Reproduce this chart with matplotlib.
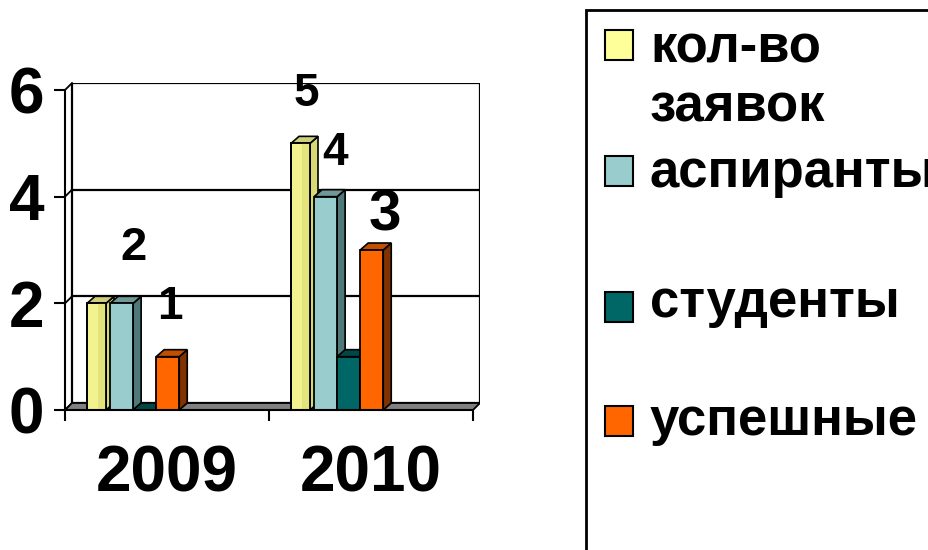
import matplotlib.pyplot as plt
from matplotlib.patches import Polygon, Rectangle

years = ["2009", "2010"]
series_names = ["кол-во\nзаявок", "аспиранты", "студенты", "успешные"]
applications = [2, 5]
postgrads = [2, 4]
students = [0, 1]
successful = [1, 3]
values = [applications, postgrads, students, successful]

front_colors = ["#F2F28F", "#99CCCC", "#006666", "#FF6600"]
side_colors = ["#D8D878", "#4F7878", "#003C3C", "#803300"]
top_colors = ["#CFCF7A", "#6F9898", "#004848", "#C24E00"]
legend_colors = ["#FFFF99", "#99CCCC", "#006666", "#FF6600"]

plt.rcParams["font.family"] = ["Liberation Sans", "DejaVu Sans"]
plt.rcParams["font.weight"] = "bold"

W, H = 929, 550
fig = plt.figure(figsize=(W / 100, H / 100), dpi=100)

# pixel scale of the front plane
px_x = 204.0
px_y = 53.33
wall_dx = 7 / px_x
wall_dy = 7 / px_y
bar_dx = 8 / px_x
bar_dy = 7 / px_y

ax = fig.add_axes([65 / W, 140 / H, (2 * px_x + 7) / W, (6 * px_y + 7) / H])
ax.set_xlim(0, 2 + wall_dx)
ax.set_ylim(0, 6 + wall_dy)
ax.patch.set_visible(False)

# back wall + gridlines
ax.add_patch(Rectangle((wall_dx, wall_dy), 2, 6, fc="white", ec="black", lw=1.6, zorder=1))
for g in [2, 4]:
    ax.plot([wall_dx, 2 + wall_dx], [g + wall_dy, g + wall_dy], color="black", lw=1.6, zorder=1.5)
# left wall edges
for g in [0, 2, 4, 6]:
    ax.plot([0, wall_dx], [g, g + wall_dy], color="black", lw=1.3, zorder=1.5, clip_on=False)
# floor
ax.add_patch(Polygon([(0, 0), (2, 0), (2 + wall_dx, wall_dy), (wall_dx, wall_dy)],
                     closed=True, fc="#808080", ec="black", lw=1.3, zorder=2))

# bars
slot = 0.113
start = 0.108
for k, vals in enumerate(values):
    width = 0.093 if k == 0 else slot
    lefts = [i + start + k * slot for i in range(len(years))]
    base = 10 + 10 * k
    bars = ax.bar(lefts, vals, width=width, align="edge", color=front_colors[k],
                  edgecolor="black", linewidth=1.3, zorder=base + 3)
    for b in bars:
        x0 = b.get_x()
        x1 = x0 + b.get_width()
        h = b.get_height()
        if k == 0:
            ax.add_patch(Rectangle((x0 + 0.6 * width, 0), 0.4 * width, h, fc="#E4E47C",
                                   ec="none", zorder=base + 3.5))
            ax.add_patch(Rectangle((x0, 0), width, h, fill=False, ec="black", lw=1.3,
                                   zorder=base + 3.6))
        ax.add_patch(Polygon([(x1, 0), (x1 + bar_dx, bar_dy), (x1 + bar_dx, h + bar_dy), (x1, h)],
                             closed=True, fc=side_colors[k], ec="black", lw=1.2, zorder=base + 1))
        ax.add_patch(Polygon([(x0, h), (x1, h), (x1 + bar_dx, h + bar_dy), (x0 + bar_dx, h + bar_dy)],
                             closed=True, fc=top_colors[k], ec="black", lw=1.2, zorder=base + 2))

# data labels: (series, category, x offset, y offset, size)
label_layout = [(1, 0, 0.06, 1.04, 34), (3, 0, 0.011, 0.93, 33), (0, 1, 0.017, 0.92, 33),
                (1, 1, 0.046, 0.82, 33), (3, 1, 0.065, 0.64, 42)]
for k, i, ox, oy, fs in label_layout:
    cx = i + start + (k + 0.5) * slot
    v = values[k][i]
    ax.text(cx + ox, v + oy, str(v), ha="center", va="center", fontsize=fs,
            fontweight="bold", zorder=100)

# axes
for s in ["top", "right"]:
    ax.spines[s].set_visible(False)
ax.spines["left"].set_bounds(0, 6)
ax.spines["bottom"].set_bounds(0, 2)
for s in ["left", "bottom"]:
    ax.spines[s].set_linewidth(1.5)
    ax.spines[s].set_zorder(200)
ax.set_yticks([0, 2, 4, 6])
ax.set_yticklabels(["0", "2", "4", "6"], fontweight="bold")
ax.tick_params(axis="y", length=8, width=1.5, pad=7, labelsize=46)
ax.set_xticks([0, 1, 2])
ax.set_xticklabels([])
ax.set_xticks([0.5, 1.5], minor=True)
ax.set_xticklabels(years, minor=True, fontweight="bold")
ax.tick_params(axis="x", which="major", length=8, width=1.5)
ax.tick_params(axis="x", which="minor", length=0, pad=25, labelsize=46)

# legend
fig.add_artist(Rectangle((586 / W, -0.1), 0.6, 1.1 - 10 / H, transform=fig.transFigure,
                         fill=False, ec="black", lw=2))
swatch_centers = [45, 171, 307, 421]
text_baselines = [[62, 122], [187], [317], [435]]
for name, col, sc, bl in zip(series_names, legend_colors, swatch_centers, text_baselines):
    fig.add_artist(Rectangle((605 / W, 1 - (sc + 15) / H), 28 / W, 30 / H,
                             transform=fig.transFigure, fc=col, ec="black", lw=1.5))
    for line, y in zip(name.split("\n"), bl):
        fig.text(650 / W, 1 - y / H, line, fontsize=38, fontweight="bold", va="baseline")

fig.savefig("out.png", dpi=100)
